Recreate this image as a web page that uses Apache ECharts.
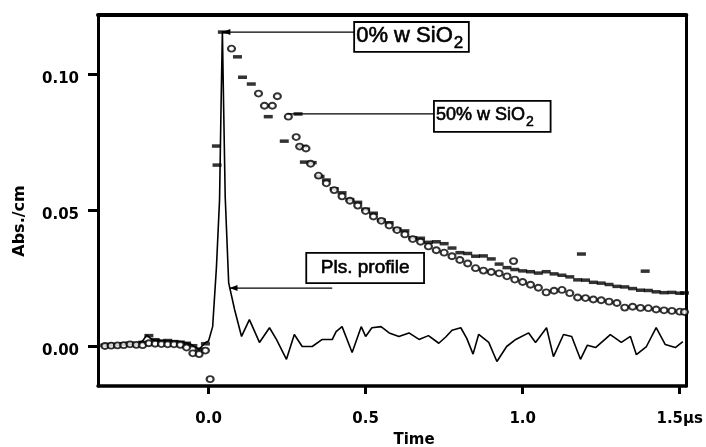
<!DOCTYPE html>
<html><head><meta charset="utf-8">
<script src="https://cdn.jsdelivr.net/npm/echarts@6/dist/echarts.min.js"></script>
<style>html,body{margin:0;padding:0;background:#fff}#c{width:706px;height:447px}</style>
</head><body><div id="c"></div><script>
// ---- data ----
const timeProfile = [-0.33,-0.30,-0.27,-0.24,-0.21,-0.197,-0.18,-0.15,-0.12,-0.09,-0.06,-0.03,-0.01,0.0,0.013,0.025,0.035,0.040,0.044,0.048,0.053,0.064,0.083,0.105,0.13,0.162,0.194,0.216,0.248,0.273,0.298,0.33,0.362,0.394,0.406,0.425,0.457,0.486,0.5,0.52,0.549,0.575,0.606,0.638,0.67,0.70,0.733,0.755,0.775,0.803,0.822,0.842,0.86,0.892,0.918,0.949,0.978,1.019,1.041,1.076,1.098,1.13,1.156,1.184,1.206,1.232,1.279,1.314,1.343,1.362,1.394,1.425,1.454,1.486,1.51];
const absProfile  = [0.0003,0.0003,0.0005,0.0008,0.002,0.0042,0.0025,0.0022,0.002,0.0018,0.001,-0.001,0.0015,0.002,0.0073,0.029,0.054,0.09,0.116,0.088,0.055,0.0234,0.0135,0.0037,0.0099,0.0015,0.0069,0.0026,-0.0047,0.0044,0.0,0.0,0.0026,0.0026,0.0055,0.0073,-0.0022,0.0073,0.0037,0.0069,0.0073,0.005,0.0037,0.005,0.0026,0.004,0.0012,0.0035,0.006,0.0069,0.003,-0.0028,0.0045,0.0015,-0.0055,0.0,0.0026,0.005,0.0015,0.0069,-0.0037,0.0044,0.0037,-0.0047,0.0005,-0.0004,0.0044,0.0015,0.0037,-0.003,0.0,0.0069,0.0007,-0.0004,0.0018];

const time0 = [-0.33,-0.31,-0.29,-0.27,-0.25,-0.23,-0.21,-0.19,-0.17,-0.15,-0.13,-0.11,-0.09,-0.07,-0.05,-0.03,-0.01,
  0.025,0.027,0.044,0.092,0.108,0.136,0.19,0.241,0.285,0.30,0.305,0.33,
  0.355,0.375,0.40,0.425,0.45,0.475,0.50,0.525,0.55,0.575,0.60,0.625,0.65,0.675,0.70,0.725,0.75,0.775,0.80,0.825,0.85,0.875,0.90,0.925,0.95,0.975,1.00,1.025,1.05,1.075,1.10,1.125,1.15,1.175,1.20,1.225,1.25,1.275,1.30,1.325,1.35,1.375,1.40,1.425,1.45,1.475,1.50,1.515,
  1.187,1.39];
const abs0 = [0.0005,0.0008,0.0006,0.001,0.0012,0.0009,0.0015,0.004,0.0025,0.002,0.0022,0.0018,0.0016,0.0012,0.0003,-0.001,0.001,
  0.0737,0.0667,0.1156,0.1065,0.099,0.0965,0.0845,0.0755,0.0855,0.0735,0.0678,0.0676,
  0.0625,0.0612,0.058,0.0565,0.054,0.053,0.0505,0.049,0.0465,0.0455,0.0432,0.0425,0.040,0.0398,0.0383,0.0385,0.0378,0.0362,0.0345,0.0342,0.0332,0.0333,0.0322,0.0303,0.029,0.0283,0.0278,0.0275,0.027,0.0275,0.0267,0.0262,0.0256,0.0245,0.0244,0.0236,0.0233,0.0228,0.0221,0.0219,0.0213,0.0207,0.0206,0.0201,0.0198,0.0199,0.0196,0.0197,
  0.034,0.0277];

const time50 = [-0.33,-0.31,-0.29,-0.27,-0.25,-0.23,-0.21,-0.19,-0.17,-0.15,-0.13,-0.11,-0.09,-0.07,-0.05,-0.03,-0.01,
  0.005,0.073,0.159,0.178,0.203,0.219,0.254,0.279,0.29,0.31,
  0.325,0.35,0.375,0.40,0.425,0.45,0.475,0.50,0.525,0.55,0.575,0.60,0.625,0.65,0.675,0.70,0.725,0.75,0.775,0.80,0.825,0.85,0.875,0.90,0.925,0.95,0.975,1.00,1.025,1.05,1.075,1.10,1.125,1.15,1.175,1.20,1.225,1.25,1.275,1.30,1.325,1.35,1.375,1.40,1.425,1.45,1.475,1.50,1.515,
  0.971];
const abs50 = [0.0002,0.0003,0.0004,0.0005,0.0008,0.0006,0.0005,0.0012,0.001,0.0009,0.0008,0.0008,0.0006,-0.0004,-0.0025,-0.0028,-0.0015,
  -0.012,0.1095,0.093,0.0885,0.0885,0.092,0.0845,0.077,0.0735,0.0728,
  0.0672,0.0628,0.060,0.0575,0.0552,0.0536,0.0518,0.0498,0.0478,0.0462,0.0445,0.0428,0.0412,0.0395,0.0385,0.0368,0.0354,0.0345,0.0332,0.0318,0.0305,0.0288,0.0279,0.0274,0.0269,0.0258,0.0246,0.0237,0.0227,0.0216,0.0199,0.0205,0.0208,0.0196,0.018,0.0178,0.0173,0.017,0.0165,0.016,0.0143,0.0146,0.0142,0.0141,0.0136,0.0133,0.0131,0.0128,0.0127,
  0.0314];

const xTicks = [0, 0.5, 1.0, 1.5];
const xTickLabels = ['0.0', '0.5', '1.0', '1.5\u00b5s'];
const yTicks = [0, 0.05, 0.10];
const yTickLabels = ['0.00', '0.05', '0.10'];

// annotations (data coordinates)
const annotations = [
  {text:'0% w SiO', sub:'2', tip:[0.044,0.1156], end:[0.4635,0.1156], box:[[0.4635,0.1193],[0.8286,0.1083]], fs:22, arrow:true},
  {text:'50% w SiO', sub:'2', tip:[0.251,0.0855], end:[0.7175,0.0855], box:[[0.7175,0.0903],[1.0889,0.0789]], fs:18, arrow:false},
  {text:'Pls. profile', sub:'', tip:[0.0667,0.0215], end:[0.3937,0.0215], box:[[0.311,0.0344],[0.686,0.0233]], fs:19, arrow:true, center:true}
];

const pair = (xs, ys) => xs.map((x, i) => [x, ys[i]]);
const lookup = (vals, labels, wrap) => v => { const i = vals.findIndex(t => Math.abs(t - v) < 1e-9); return i < 0 ? '' : (wrap ? '{a|' + labels[i] + '}' : labels[i]); };

const chart = echarts.init(document.getElementById('c'), null, {renderer:'canvas'});
const tickFont = {fontFamily:'"DejaVu Sans", sans-serif', fontWeight:'bold', fontSize:15, color:'#000'};
chart.setOption({
  animation:false,
  backgroundColor:'#fff',
  grid:{left:98, right:18, top:15, bottom:61},
  xAxis:[{
    type:'value', min:-0.352, max:1.521, position:'bottom',
    axisLine:{show:true, onZero:false, lineStyle:{color:'#000', width:3.5}},
    axisTick:{show:true, customValues:xTicks, length:8, lineStyle:{color:'#000', width:3}},
    axisLabel:Object.assign({customValues:xTicks, margin:26, formatter:lookup(xTicks, xTickLabels, false)}, tickFont),
    splitLine:{show:false}
  },{
    type:'value', min:-0.352, max:1.521, position:'top',
    axisLine:{show:true, onZero:false, lineStyle:{color:'#000', width:4}},
    axisTick:{show:false}, axisLabel:{show:false}, splitLine:{show:false}
  }],
  yAxis:[{
    type:'value', min:-0.01452, max:0.12188, position:'left',
    axisLine:{show:true, onZero:false, lineStyle:{color:'#000', width:3}},
    axisTick:{show:true, customValues:yTicks, length:10, lineStyle:{color:'#000', width:3}},
    axisLabel:Object.assign({customValues:yTicks, margin:19, formatter:lookup(yTicks, yTickLabels, true),
      rich:{a:Object.assign({padding:[9,0,0,0]}, tickFont)}}, tickFont),
    splitLine:{show:false}
  },{
    type:'value', min:-0.01452, max:0.12188, position:'right',
    axisLine:{show:true, onZero:false, lineStyle:{color:'#000', width:3}},
    axisTick:{show:false}, axisLabel:{show:false}, splitLine:{show:false}
  }],
  series:[
    {type:'line', name:'Pls. profile', data:pair(timeProfile, absProfile), showSymbol:false, symbol:'none',
     lineStyle:{color:'#000', width:1.6}, z:2},
    {type:'scatter', name:'0% w SiO2', data:pair(time0, abs0), symbol:'rect', symbolSize:[9,3.5],
     itemStyle:{color:'#000'}, z:3},
    {type:'scatter', name:'50% w SiO2', data:pair(time50, abs50), symbol:'emptyCircle', symbolSize:[7,6],
     itemStyle:{color:'#000', borderColor:'#000', borderWidth:1.6}, z:4}
  ]
});

const ctx = document.createElement('canvas').getContext('2d');
const measure = (t, font) => { ctx.font = font; return ctx.measureText(t).width; };
const px = p => chart.convertToPixel({xAxisIndex:0, yAxisIndex:0}, p);
const fam = '"Liberation Sans", Arial, sans-serif';
const els = [];
annotations.forEach(a => {
  const t = px(a.tip), e = px(a.end), b1 = px(a.box[0]), b2 = px(a.box[1]);
  els.push({type:'line', z:100, shape:{x1:t[0], y1:t[1], x2:e[0], y2:e[1]}, style:{stroke:'#000', lineWidth:1.3}});
  if (a.arrow) els.push({type:'polygon', z:101, shape:{points:[[t[0],t[1]],[t[0]+8,t[1]-3],[t[0]+8,t[1]+3]]}, style:{fill:'#000'}});
  els.push({type:'rect', z:100, shape:{x:b1[0], y:b1[1], width:b2[0]-b1[0], height:b2[1]-b1[1]}, style:{fill:'#fff', stroke:'#000', lineWidth:1.8}});
  const mid = (b1[1] + b2[1]) / 2;
  const font = a.fs + 'px ' + fam;
  if (a.center) {
    els.push({type:'text', z:102, x:(b1[0]+b2[0])/2, y:mid, style:{text:a.text, font:font, fill:'#000', stroke:'#000', lineWidth:0.6, align:'center', verticalAlign:'middle'}});
  } else {
    const x0 = b1[0] + 2;
    els.push({type:'text', z:102, x:x0, y:mid - 1, style:{text:a.text, font:font, fill:'#000', stroke:'#000', lineWidth:0.6, align:'left', verticalAlign:'middle'}});
    const w = measure(a.text, font);
    const sfs = Math.round(a.fs * 0.75);
    els.push({type:'text', z:102, x:x0 + w + 1, y:mid + a.fs * 0.3, style:{text:a.sub, font:sfs + 'px ' + fam, fill:'#000', stroke:'#000', lineWidth:0.5, align:'left', verticalAlign:'middle'}});
  }
});
els.push({type:'text', z:102, x:20, y:221, rotation:Math.PI/2, style:{text:'Abs./cm', font:'bold 16px "DejaVu Sans", sans-serif', fill:'#000', align:'center', verticalAlign:'middle'}});
els.push({type:'text', z:102, x:414, y:440, style:{text:'Time', font:'bold 15px "DejaVu Sans", sans-serif', fill:'#000', align:'center', verticalAlign:'middle'}});
chart.setOption({graphic:{elements:els}});
</script></body></html>
